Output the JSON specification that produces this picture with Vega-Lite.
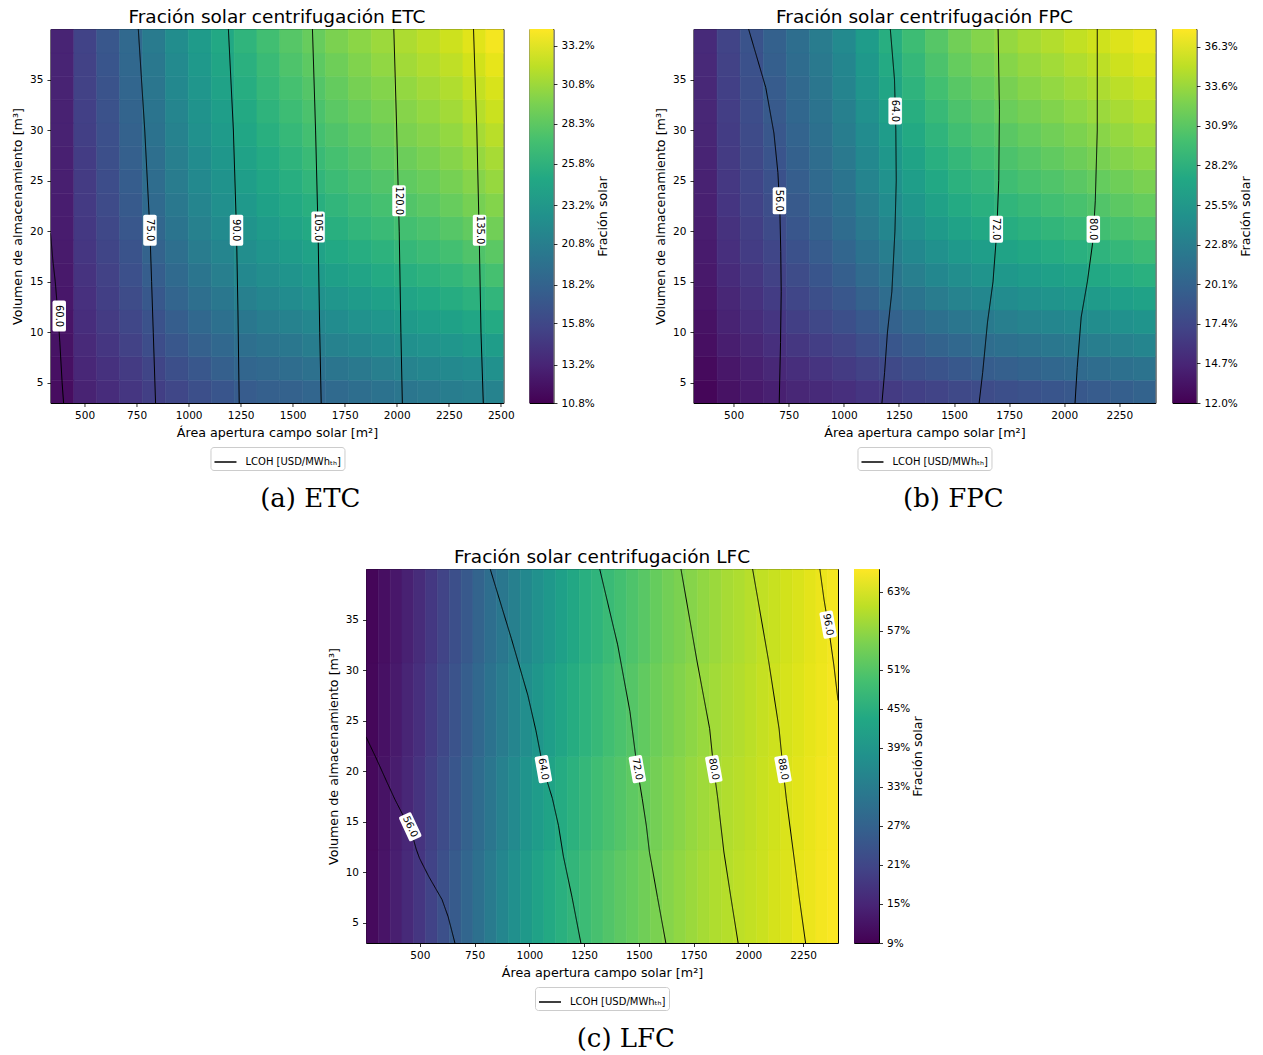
{
"$schema": "https://vega.github.io/schema/vega-lite/v6.json",
"background": "white",
"padding": {"left": 11, "top": 7, "right": 5, "bottom": 3},
"config": {
  "font": "DejaVu Sans",
  "view": {"stroke": "black", "strokeWidth": 1},
  "axis": {"grid": false, "domain": false, "tickColor": "black", "tickSize": 3.5, "tickWidth": 0.8, "labelFont": "DejaVu Sans", "labelFontSize": 10.5, "labelColor": "black", "labelPadding": 4, "labelFlush": false, "labelOverlap": false, "titleFont": "DejaVu Sans", "titleFontSize": 12.7, "titleFontWeight": "normal", "titleColor": "black", "titlePadding": 5},
  "title": {"font": "DejaVu Sans", "fontSize": 18.5, "fontWeight": "normal", "color": "black"},
  "legend": {"layout": {"bottom": {"anchor": "middle"}}}
},
"datasets": {
  "etc": [
{"x":391,"y":4.2,"f":11.5},{"x":391,"y":6.5,"f":11.7},{"x":391,"y":8.8,"f":11.9},{"x":391,"y":11.1,"f":12.0},{"x":391,"y":13.4,"f":12.2},{"x":391,"y":15.7,"f":12.3},{"x":391,"y":18.0,"f":12.4},{"x":391,"y":20.3,"f":12.5},{"x":391,"y":22.7,"f":12.6},{"x":391,"y":25.0,"f":12.7},{"x":391,"y":27.3,"f":12.8},{"x":391,"y":29.6,"f":12.9},{"x":391,"y":31.9,"f":12.9},{"x":391,"y":34.2,"f":13.0},{"x":391,"y":36.5,"f":13.1},{"x":391,"y":38.8,"f":13.1},
{"x":501,"y":4.2,"f":13.0},{"x":501,"y":6.5,"f":13.3},{"x":501,"y":8.8,"f":13.5},{"x":501,"y":11.1,"f":13.8},{"x":501,"y":13.4,"f":14.0},{"x":501,"y":15.7,"f":14.2},{"x":501,"y":18.0,"f":14.4},{"x":501,"y":20.3,"f":14.6},{"x":501,"y":22.7,"f":14.7},{"x":501,"y":25.0,"f":14.8},{"x":501,"y":27.3,"f":14.9},{"x":501,"y":29.6,"f":15.1},{"x":501,"y":31.9,"f":15.2},{"x":501,"y":34.2,"f":15.3},{"x":501,"y":36.5,"f":15.3},{"x":501,"y":38.8,"f":15.4},
{"x":611,"y":4.2,"f":13.7},{"x":611,"y":6.5,"f":14.1},{"x":611,"y":8.8,"f":14.4},{"x":611,"y":11.1,"f":14.8},{"x":611,"y":13.4,"f":15.1},{"x":611,"y":15.7,"f":15.3},{"x":611,"y":18.0,"f":15.6},{"x":611,"y":20.3,"f":15.8},{"x":611,"y":22.7,"f":16.0},{"x":611,"y":25.0,"f":16.2},{"x":611,"y":27.3,"f":16.4},{"x":611,"y":29.6,"f":16.5},{"x":611,"y":31.9,"f":16.7},{"x":611,"y":34.2,"f":16.8},{"x":611,"y":36.5,"f":17.0},{"x":611,"y":38.8,"f":17.1},
{"x":721,"y":4.2,"f":14.4},{"x":721,"y":6.5,"f":14.8},{"x":721,"y":8.8,"f":15.3},{"x":721,"y":11.1,"f":15.7},{"x":721,"y":13.4,"f":16.1},{"x":721,"y":15.7,"f":16.5},{"x":721,"y":18.0,"f":16.8},{"x":721,"y":20.3,"f":17.1},{"x":721,"y":22.7,"f":17.4},{"x":721,"y":25.0,"f":17.6},{"x":721,"y":27.3,"f":17.8},{"x":721,"y":29.6,"f":18.0},{"x":721,"y":31.9,"f":18.2},{"x":721,"y":34.2,"f":18.4},{"x":721,"y":36.5,"f":18.6},{"x":721,"y":38.8,"f":18.7},
{"x":831,"y":4.2,"f":15.1},{"x":831,"y":6.5,"f":15.6},{"x":831,"y":8.8,"f":16.2},{"x":831,"y":11.1,"f":16.7},{"x":831,"y":13.4,"f":17.2},{"x":831,"y":15.7,"f":17.7},{"x":831,"y":18.0,"f":18.1},{"x":831,"y":20.3,"f":18.5},{"x":831,"y":22.7,"f":18.8},{"x":831,"y":25.0,"f":19.1},{"x":831,"y":27.3,"f":19.3},{"x":831,"y":29.6,"f":19.6},{"x":831,"y":31.9,"f":19.8},{"x":831,"y":34.2,"f":20.0},{"x":831,"y":36.5,"f":20.2},{"x":831,"y":38.8,"f":20.4},
{"x":941,"y":4.2,"f":15.7},{"x":941,"y":6.5,"f":16.4},{"x":941,"y":8.8,"f":17.1},{"x":941,"y":11.1,"f":17.7},{"x":941,"y":13.4,"f":18.3},{"x":941,"y":15.7,"f":18.8},{"x":941,"y":18.0,"f":19.3},{"x":941,"y":20.3,"f":19.8},{"x":941,"y":22.7,"f":20.2},{"x":941,"y":25.0,"f":20.5},{"x":941,"y":27.3,"f":20.8},{"x":941,"y":29.6,"f":21.1},{"x":941,"y":31.9,"f":21.4},{"x":941,"y":34.2,"f":21.7},{"x":941,"y":36.5,"f":21.9},{"x":941,"y":38.8,"f":22.2},
{"x":1051,"y":4.2,"f":16.4},{"x":1051,"y":6.5,"f":17.1},{"x":1051,"y":8.8,"f":17.9},{"x":1051,"y":11.1,"f":18.6},{"x":1051,"y":13.4,"f":19.3},{"x":1051,"y":15.7,"f":19.9},{"x":1051,"y":18.0,"f":20.5},{"x":1051,"y":20.3,"f":21.0},{"x":1051,"y":22.7,"f":21.4},{"x":1051,"y":25.0,"f":21.8},{"x":1051,"y":27.3,"f":22.1},{"x":1051,"y":29.6,"f":22.5},{"x":1051,"y":31.9,"f":22.8},{"x":1051,"y":34.2,"f":23.1},{"x":1051,"y":36.5,"f":23.4},{"x":1051,"y":38.8,"f":23.6},
{"x":1161,"y":4.2,"f":17.0},{"x":1161,"y":6.5,"f":17.8},{"x":1161,"y":8.8,"f":18.6},{"x":1161,"y":11.1,"f":19.4},{"x":1161,"y":13.4,"f":20.1},{"x":1161,"y":15.7,"f":20.8},{"x":1161,"y":18.0,"f":21.4},{"x":1161,"y":20.3,"f":22.0},{"x":1161,"y":22.7,"f":22.4},{"x":1161,"y":25.0,"f":22.8},{"x":1161,"y":27.3,"f":23.2},{"x":1161,"y":29.6,"f":23.6},{"x":1161,"y":31.9,"f":23.9},{"x":1161,"y":34.2,"f":24.3},{"x":1161,"y":36.5,"f":24.6},{"x":1161,"y":38.8,"f":24.9},
{"x":1271,"y":4.2,"f":17.5},{"x":1271,"y":6.5,"f":18.4},{"x":1271,"y":8.8,"f":19.3},{"x":1271,"y":11.1,"f":20.1},{"x":1271,"y":13.4,"f":20.9},{"x":1271,"y":15.7,"f":21.7},{"x":1271,"y":18.0,"f":22.3},{"x":1271,"y":20.3,"f":22.9},{"x":1271,"y":22.7,"f":23.4},{"x":1271,"y":25.0,"f":23.9},{"x":1271,"y":27.3,"f":24.3},{"x":1271,"y":29.6,"f":24.7},{"x":1271,"y":31.9,"f":25.0},{"x":1271,"y":34.2,"f":25.4},{"x":1271,"y":36.5,"f":25.7},{"x":1271,"y":38.8,"f":26.1},
{"x":1381,"y":4.2,"f":17.8},{"x":1381,"y":6.5,"f":18.7},{"x":1381,"y":8.8,"f":19.7},{"x":1381,"y":11.1,"f":20.6},{"x":1381,"y":13.4,"f":21.5},{"x":1381,"y":15.7,"f":22.3},{"x":1381,"y":18.0,"f":23.0},{"x":1381,"y":20.3,"f":23.6},{"x":1381,"y":22.7,"f":24.2},{"x":1381,"y":25.0,"f":24.7},{"x":1381,"y":27.3,"f":25.1},{"x":1381,"y":29.6,"f":25.6},{"x":1381,"y":31.9,"f":26.0},{"x":1381,"y":34.2,"f":26.4},{"x":1381,"y":36.5,"f":26.7},{"x":1381,"y":38.8,"f":27.1},
{"x":1491,"y":4.2,"f":18.0},{"x":1491,"y":6.5,"f":19.1},{"x":1491,"y":8.8,"f":20.1},{"x":1491,"y":11.1,"f":21.1},{"x":1491,"y":13.4,"f":22.1},{"x":1491,"y":15.7,"f":22.9},{"x":1491,"y":18.0,"f":23.7},{"x":1491,"y":20.3,"f":24.4},{"x":1491,"y":22.7,"f":25.0},{"x":1491,"y":25.0,"f":25.5},{"x":1491,"y":27.3,"f":26.0},{"x":1491,"y":29.6,"f":26.5},{"x":1491,"y":31.9,"f":26.9},{"x":1491,"y":34.2,"f":27.3},{"x":1491,"y":36.5,"f":27.7},{"x":1491,"y":38.8,"f":28.1},
{"x":1601,"y":4.2,"f":18.4},{"x":1601,"y":6.5,"f":19.5},{"x":1601,"y":8.8,"f":20.6},{"x":1601,"y":11.1,"f":21.6},{"x":1601,"y":13.4,"f":22.6},{"x":1601,"y":15.7,"f":23.5},{"x":1601,"y":18.0,"f":24.3},{"x":1601,"y":20.3,"f":25.0},{"x":1601,"y":22.7,"f":25.6},{"x":1601,"y":25.0,"f":26.2},{"x":1601,"y":27.3,"f":26.7},{"x":1601,"y":29.6,"f":27.2},{"x":1601,"y":31.9,"f":27.6},{"x":1601,"y":34.2,"f":28.0},{"x":1601,"y":36.5,"f":28.4},{"x":1601,"y":38.8,"f":28.8},
{"x":1711,"y":4.2,"f":18.8},{"x":1711,"y":6.5,"f":19.9},{"x":1711,"y":8.8,"f":21.1},{"x":1711,"y":11.1,"f":22.1},{"x":1711,"y":13.4,"f":23.1},{"x":1711,"y":15.7,"f":24.0},{"x":1711,"y":18.0,"f":24.9},{"x":1711,"y":20.3,"f":25.6},{"x":1711,"y":22.7,"f":26.2},{"x":1711,"y":25.0,"f":26.8},{"x":1711,"y":27.3,"f":27.3},{"x":1711,"y":29.6,"f":27.8},{"x":1711,"y":31.9,"f":28.3},{"x":1711,"y":34.2,"f":28.7},{"x":1711,"y":36.5,"f":29.1},{"x":1711,"y":38.8,"f":29.6},
{"x":1821,"y":4.2,"f":19.2},{"x":1821,"y":6.5,"f":20.3},{"x":1821,"y":8.8,"f":21.5},{"x":1821,"y":11.1,"f":22.6},{"x":1821,"y":13.4,"f":23.6},{"x":1821,"y":15.7,"f":24.5},{"x":1821,"y":18.0,"f":25.4},{"x":1821,"y":20.3,"f":26.2},{"x":1821,"y":22.7,"f":26.8},{"x":1821,"y":25.0,"f":27.4},{"x":1821,"y":27.3,"f":27.9},{"x":1821,"y":29.6,"f":28.4},{"x":1821,"y":31.9,"f":28.9},{"x":1821,"y":34.2,"f":29.4},{"x":1821,"y":36.5,"f":29.8},{"x":1821,"y":38.8,"f":30.2},
{"x":1931,"y":4.2,"f":19.6},{"x":1931,"y":6.5,"f":20.8},{"x":1931,"y":8.8,"f":22.0},{"x":1931,"y":11.1,"f":23.1},{"x":1931,"y":13.4,"f":24.1},{"x":1931,"y":15.7,"f":25.1},{"x":1931,"y":18.0,"f":25.9},{"x":1931,"y":20.3,"f":26.7},{"x":1931,"y":22.7,"f":27.3},{"x":1931,"y":25.0,"f":27.9},{"x":1931,"y":27.3,"f":28.5},{"x":1931,"y":29.6,"f":29.0},{"x":1931,"y":31.9,"f":29.5},{"x":1931,"y":34.2,"f":29.9},{"x":1931,"y":36.5,"f":30.4},{"x":1931,"y":38.8,"f":30.8},
{"x":2041,"y":4.2,"f":20.0},{"x":2041,"y":6.5,"f":21.2},{"x":2041,"y":8.8,"f":22.4},{"x":2041,"y":11.1,"f":23.5},{"x":2041,"y":13.4,"f":24.5},{"x":2041,"y":15.7,"f":25.5},{"x":2041,"y":18.0,"f":26.4},{"x":2041,"y":20.3,"f":27.2},{"x":2041,"y":22.7,"f":27.9},{"x":2041,"y":25.0,"f":28.5},{"x":2041,"y":27.3,"f":29.0},{"x":2041,"y":29.6,"f":29.6},{"x":2041,"y":31.9,"f":30.0},{"x":2041,"y":34.2,"f":30.5},{"x":2041,"y":36.5,"f":31.0},{"x":2041,"y":38.8,"f":31.4},
{"x":2151,"y":4.2,"f":20.3},{"x":2151,"y":6.5,"f":21.5},{"x":2151,"y":8.8,"f":22.7},{"x":2151,"y":11.1,"f":23.9},{"x":2151,"y":13.4,"f":24.9},{"x":2151,"y":15.7,"f":25.9},{"x":2151,"y":18.0,"f":26.8},{"x":2151,"y":20.3,"f":27.6},{"x":2151,"y":22.7,"f":28.3},{"x":2151,"y":25.0,"f":28.9},{"x":2151,"y":27.3,"f":29.5},{"x":2151,"y":29.6,"f":30.0},{"x":2151,"y":31.9,"f":30.5},{"x":2151,"y":34.2,"f":31.0},{"x":2151,"y":36.5,"f":31.5},{"x":2151,"y":38.8,"f":31.9},
{"x":2261,"y":4.2,"f":20.6},{"x":2261,"y":6.5,"f":21.8},{"x":2261,"y":8.8,"f":23.1},{"x":2261,"y":11.1,"f":24.2},{"x":2261,"y":13.4,"f":25.3},{"x":2261,"y":15.7,"f":26.3},{"x":2261,"y":18.0,"f":27.2},{"x":2261,"y":20.3,"f":28.1},{"x":2261,"y":22.7,"f":28.8},{"x":2261,"y":25.0,"f":29.4},{"x":2261,"y":27.3,"f":30.0},{"x":2261,"y":29.6,"f":30.5},{"x":2261,"y":31.9,"f":31.0},{"x":2261,"y":34.2,"f":31.5},{"x":2261,"y":36.5,"f":32.0},{"x":2261,"y":38.8,"f":32.5},
{"x":2371,"y":4.2,"f":20.9},{"x":2371,"y":6.5,"f":22.1},{"x":2371,"y":8.8,"f":23.5},{"x":2371,"y":11.1,"f":24.7},{"x":2371,"y":13.4,"f":25.8},{"x":2371,"y":15.7,"f":26.8},{"x":2371,"y":18.0,"f":27.8},{"x":2371,"y":20.3,"f":28.6},{"x":2371,"y":22.7,"f":29.4},{"x":2371,"y":25.0,"f":30.0},{"x":2371,"y":27.3,"f":30.6},{"x":2371,"y":29.6,"f":31.2},{"x":2371,"y":31.9,"f":31.7},{"x":2371,"y":34.2,"f":32.2},{"x":2371,"y":36.5,"f":32.7},{"x":2371,"y":38.8,"f":33.2},
{"x":2481,"y":4.2,"f":21.2},{"x":2481,"y":6.5,"f":22.5},{"x":2481,"y":8.8,"f":23.8},{"x":2481,"y":11.1,"f":25.1},{"x":2481,"y":13.4,"f":26.2},{"x":2481,"y":15.7,"f":27.3},{"x":2481,"y":18.0,"f":28.3},{"x":2481,"y":20.3,"f":29.2},{"x":2481,"y":22.7,"f":29.9},{"x":2481,"y":25.0,"f":30.6},{"x":2481,"y":27.3,"f":31.2},{"x":2481,"y":29.6,"f":31.8},{"x":2481,"y":31.9,"f":32.4},{"x":2481,"y":34.2,"f":32.9},{"x":2481,"y":36.5,"f":33.4},{"x":2481,"y":38.8,"f":33.9}
  ],
  "etcL": [
{"c":"60","x":336,"y":19.8},{"c":"60","x":348,"y":17},{"c":"60","x":359,"y":15},{"c":"60","x":371,"y":12},{"c":"60","x":381,"y":9},{"c":"60","x":392,"y":5},{"c":"60","x":399,"y":3},
{"c":"75","x":758,"y":40},{"c":"75","x":789,"y":30},{"c":"75","x":814,"y":20},{"c":"75","x":822,"y":15},{"c":"75","x":830,"y":10},{"c":"75","x":841,"y":3},
{"c":"90","x":1191,"y":40},{"c":"90","x":1215,"y":30},{"c":"90","x":1230,"y":20},{"c":"90","x":1237,"y":12},{"c":"90","x":1243,"y":3},
{"c":"105","x":1595,"y":40},{"c":"105","x":1610,"y":30},{"c":"105","x":1622,"y":20},{"c":"105","x":1630,"y":10},{"c":"105","x":1637,"y":3},
{"c":"120","x":1986,"y":40},{"c":"120","x":2000,"y":30},{"c":"120","x":2012,"y":20},{"c":"120","x":2020,"y":10},{"c":"120","x":2027,"y":3},
{"c":"135","x":2369,"y":40},{"c":"135","x":2385,"y":30},{"c":"135","x":2396,"y":20},{"c":"135","x":2405,"y":10},{"c":"135","x":2416,"y":3}
  ],
  "etcT": [
{"x":378,"y":11.6,"t":"60.0"},{"x":814,"y":20.1,"t":"75.0"},{"x":1230,"y":20.1,"t":"90.0"},{"x":1622,"y":20.4,"t":"105.0"},{"x":2011,"y":23.0,"t":"120.0"},{"x":2398,"y":20.1,"t":"135.0"}
  ],
  "fpc": [
{"x":371,"y":4.2,"f":12.3},{"x":371,"y":6.5,"f":12.6},{"x":371,"y":8.8,"f":12.9},{"x":371,"y":11.1,"f":13.1},{"x":371,"y":13.4,"f":13.4},{"x":371,"y":15.7,"f":13.6},{"x":371,"y":18.0,"f":13.8},{"x":371,"y":20.3,"f":14.0},{"x":371,"y":22.7,"f":14.2},{"x":371,"y":25.0,"f":14.3},{"x":371,"y":27.3,"f":14.5},{"x":371,"y":29.6,"f":14.6},{"x":371,"y":31.9,"f":14.7},{"x":371,"y":34.2,"f":14.8},{"x":371,"y":36.5,"f":14.9},{"x":371,"y":38.8,"f":15.0},
{"x":476,"y":4.2,"f":13.1},{"x":476,"y":6.5,"f":13.5},{"x":476,"y":8.8,"f":14.0},{"x":476,"y":11.1,"f":14.4},{"x":476,"y":13.4,"f":14.7},{"x":476,"y":15.7,"f":15.1},{"x":476,"y":18.0,"f":15.4},{"x":476,"y":20.3,"f":15.6},{"x":476,"y":22.7,"f":15.9},{"x":476,"y":25.0,"f":16.1},{"x":476,"y":27.3,"f":16.3},{"x":476,"y":29.6,"f":16.4},{"x":476,"y":31.9,"f":16.6},{"x":476,"y":34.2,"f":16.8},{"x":476,"y":36.5,"f":16.9},{"x":476,"y":38.8,"f":17.1},
{"x":581,"y":4.2,"f":13.7},{"x":581,"y":6.5,"f":14.2},{"x":581,"y":8.8,"f":14.7},{"x":581,"y":11.1,"f":15.2},{"x":581,"y":13.4,"f":15.6},{"x":581,"y":15.7,"f":16.0},{"x":581,"y":18.0,"f":16.4},{"x":581,"y":20.3,"f":16.7},{"x":581,"y":22.7,"f":17.0},{"x":581,"y":25.0,"f":17.3},{"x":581,"y":27.3,"f":17.5},{"x":581,"y":29.6,"f":17.7},{"x":581,"y":31.9,"f":17.9},{"x":581,"y":34.2,"f":18.1},{"x":581,"y":36.5,"f":18.3},{"x":581,"y":38.8,"f":18.5},
{"x":686,"y":4.2,"f":14.2},{"x":686,"y":6.5,"f":14.8},{"x":686,"y":8.8,"f":15.4},{"x":686,"y":11.1,"f":15.9},{"x":686,"y":13.4,"f":16.4},{"x":686,"y":15.7,"f":16.9},{"x":686,"y":18.0,"f":17.3},{"x":686,"y":20.3,"f":17.7},{"x":686,"y":22.7,"f":18.0},{"x":686,"y":25.0,"f":18.3},{"x":686,"y":27.3,"f":18.6},{"x":686,"y":29.6,"f":18.9},{"x":686,"y":31.9,"f":19.1},{"x":686,"y":34.2,"f":19.3},{"x":686,"y":36.5,"f":19.6},{"x":686,"y":38.8,"f":19.8},
{"x":791,"y":4.2,"f":14.7},{"x":791,"y":6.5,"f":15.3},{"x":791,"y":8.8,"f":16.0},{"x":791,"y":11.1,"f":16.7},{"x":791,"y":13.4,"f":17.3},{"x":791,"y":15.7,"f":17.8},{"x":791,"y":18.0,"f":18.3},{"x":791,"y":20.3,"f":18.8},{"x":791,"y":22.7,"f":19.1},{"x":791,"y":25.0,"f":19.5},{"x":791,"y":27.3,"f":19.8},{"x":791,"y":29.6,"f":20.1},{"x":791,"y":31.9,"f":20.4},{"x":791,"y":34.2,"f":20.6},{"x":791,"y":36.5,"f":20.9},{"x":791,"y":38.8,"f":21.1},
{"x":896,"y":4.2,"f":15.0},{"x":896,"y":6.5,"f":15.8},{"x":896,"y":8.8,"f":16.6},{"x":896,"y":11.1,"f":17.4},{"x":896,"y":13.4,"f":18.1},{"x":896,"y":15.7,"f":18.7},{"x":896,"y":18.0,"f":19.3},{"x":896,"y":20.3,"f":19.8},{"x":896,"y":22.7,"f":20.3},{"x":896,"y":25.0,"f":20.7},{"x":896,"y":27.3,"f":21.0},{"x":896,"y":29.6,"f":21.4},{"x":896,"y":31.9,"f":21.7},{"x":896,"y":34.2,"f":22.0},{"x":896,"y":36.5,"f":22.3},{"x":896,"y":38.8,"f":22.6},
{"x":1001,"y":4.2,"f":15.4},{"x":1001,"y":6.5,"f":16.3},{"x":1001,"y":8.8,"f":17.2},{"x":1001,"y":11.1,"f":18.1},{"x":1001,"y":13.4,"f":18.9},{"x":1001,"y":15.7,"f":19.6},{"x":1001,"y":18.0,"f":20.3},{"x":1001,"y":20.3,"f":20.9},{"x":1001,"y":22.7,"f":21.4},{"x":1001,"y":25.0,"f":21.8},{"x":1001,"y":27.3,"f":22.3},{"x":1001,"y":29.6,"f":22.7},{"x":1001,"y":31.9,"f":23.0},{"x":1001,"y":34.2,"f":23.4},{"x":1001,"y":36.5,"f":23.7},{"x":1001,"y":38.8,"f":24.1},
{"x":1106,"y":4.2,"f":15.9},{"x":1106,"y":6.5,"f":16.9},{"x":1106,"y":8.8,"f":18.0},{"x":1106,"y":11.1,"f":19.0},{"x":1106,"y":13.4,"f":19.9},{"x":1106,"y":15.7,"f":20.8},{"x":1106,"y":18.0,"f":21.6},{"x":1106,"y":20.3,"f":22.3},{"x":1106,"y":22.7,"f":22.8},{"x":1106,"y":25.0,"f":23.4},{"x":1106,"y":27.3,"f":23.9},{"x":1106,"y":29.6,"f":24.3},{"x":1106,"y":31.9,"f":24.8},{"x":1106,"y":34.2,"f":25.2},{"x":1106,"y":36.5,"f":25.6},{"x":1106,"y":38.8,"f":26.0},
{"x":1211,"y":4.2,"f":16.3},{"x":1211,"y":6.5,"f":17.5},{"x":1211,"y":8.8,"f":18.8},{"x":1211,"y":11.1,"f":19.9},{"x":1211,"y":13.4,"f":21.0},{"x":1211,"y":15.7,"f":21.9},{"x":1211,"y":18.0,"f":22.8},{"x":1211,"y":20.3,"f":23.6},{"x":1211,"y":22.7,"f":24.3},{"x":1211,"y":25.0,"f":24.9},{"x":1211,"y":27.3,"f":25.5},{"x":1211,"y":29.6,"f":26.0},{"x":1211,"y":31.9,"f":26.5},{"x":1211,"y":34.2,"f":27.0},{"x":1211,"y":36.5,"f":27.5},{"x":1211,"y":38.8,"f":27.9},
{"x":1316,"y":4.2,"f":16.8},{"x":1316,"y":6.5,"f":18.1},{"x":1316,"y":8.8,"f":19.4},{"x":1316,"y":11.1,"f":20.7},{"x":1316,"y":13.4,"f":21.8},{"x":1316,"y":15.7,"f":22.9},{"x":1316,"y":18.0,"f":23.9},{"x":1316,"y":20.3,"f":24.8},{"x":1316,"y":22.7,"f":25.5},{"x":1316,"y":25.0,"f":26.2},{"x":1316,"y":27.3,"f":26.8},{"x":1316,"y":29.6,"f":27.4},{"x":1316,"y":31.9,"f":27.9},{"x":1316,"y":34.2,"f":28.5},{"x":1316,"y":36.5,"f":29.0},{"x":1316,"y":38.8,"f":29.5},
{"x":1421,"y":4.2,"f":17.1},{"x":1421,"y":6.5,"f":18.5},{"x":1421,"y":8.8,"f":20.0},{"x":1421,"y":11.1,"f":21.4},{"x":1421,"y":13.4,"f":22.6},{"x":1421,"y":15.7,"f":23.8},{"x":1421,"y":18.0,"f":24.8},{"x":1421,"y":20.3,"f":25.8},{"x":1421,"y":22.7,"f":26.6},{"x":1421,"y":25.0,"f":27.3},{"x":1421,"y":27.3,"f":28.0},{"x":1421,"y":29.6,"f":28.6},{"x":1421,"y":31.9,"f":29.2},{"x":1421,"y":34.2,"f":29.8},{"x":1421,"y":36.5,"f":30.3},{"x":1421,"y":38.8,"f":30.8},
{"x":1526,"y":4.2,"f":17.5},{"x":1526,"y":6.5,"f":19.0},{"x":1526,"y":8.8,"f":20.5},{"x":1526,"y":11.1,"f":22.0},{"x":1526,"y":13.4,"f":23.3},{"x":1526,"y":15.7,"f":24.5},{"x":1526,"y":18.0,"f":25.7},{"x":1526,"y":20.3,"f":26.7},{"x":1526,"y":22.7,"f":27.5},{"x":1526,"y":25.0,"f":28.3},{"x":1526,"y":27.3,"f":29.0},{"x":1526,"y":29.6,"f":29.7},{"x":1526,"y":31.9,"f":30.3},{"x":1526,"y":34.2,"f":30.9},{"x":1526,"y":36.5,"f":31.5},{"x":1526,"y":38.8,"f":32.0},
{"x":1631,"y":4.2,"f":17.8},{"x":1631,"y":6.5,"f":19.4},{"x":1631,"y":8.8,"f":21.0},{"x":1631,"y":11.1,"f":22.4},{"x":1631,"y":13.4,"f":23.8},{"x":1631,"y":15.7,"f":25.1},{"x":1631,"y":18.0,"f":26.2},{"x":1631,"y":20.3,"f":27.3},{"x":1631,"y":22.7,"f":28.1},{"x":1631,"y":25.0,"f":28.9},{"x":1631,"y":27.3,"f":29.7},{"x":1631,"y":29.6,"f":30.4},{"x":1631,"y":31.9,"f":31.0},{"x":1631,"y":34.2,"f":31.6},{"x":1631,"y":36.5,"f":32.2},{"x":1631,"y":38.8,"f":32.8},
{"x":1736,"y":4.2,"f":18.1},{"x":1736,"y":6.5,"f":19.7},{"x":1736,"y":8.8,"f":21.3},{"x":1736,"y":11.1,"f":22.9},{"x":1736,"y":13.4,"f":24.3},{"x":1736,"y":15.7,"f":25.6},{"x":1736,"y":18.0,"f":26.8},{"x":1736,"y":20.3,"f":27.8},{"x":1736,"y":22.7,"f":28.7},{"x":1736,"y":25.0,"f":29.6},{"x":1736,"y":27.3,"f":30.3},{"x":1736,"y":29.6,"f":31.0},{"x":1736,"y":31.9,"f":31.7},{"x":1736,"y":34.2,"f":32.3},{"x":1736,"y":36.5,"f":32.9},{"x":1736,"y":38.8,"f":33.5},
{"x":1841,"y":4.2,"f":18.4},{"x":1841,"y":6.5,"f":20.0},{"x":1841,"y":8.8,"f":21.7},{"x":1841,"y":11.1,"f":23.3},{"x":1841,"y":13.4,"f":24.7},{"x":1841,"y":15.7,"f":26.0},{"x":1841,"y":18.0,"f":27.2},{"x":1841,"y":20.3,"f":28.3},{"x":1841,"y":22.7,"f":29.2},{"x":1841,"y":25.0,"f":30.1},{"x":1841,"y":27.3,"f":30.8},{"x":1841,"y":29.6,"f":31.5},{"x":1841,"y":31.9,"f":32.2},{"x":1841,"y":34.2,"f":32.9},{"x":1841,"y":36.5,"f":33.5},{"x":1841,"y":38.8,"f":34.1},
{"x":1946,"y":4.2,"f":18.7},{"x":1946,"y":6.5,"f":20.4},{"x":1946,"y":8.8,"f":22.1},{"x":1946,"y":11.1,"f":23.6},{"x":1946,"y":13.4,"f":25.1},{"x":1946,"y":15.7,"f":26.4},{"x":1946,"y":18.0,"f":27.7},{"x":1946,"y":20.3,"f":28.8},{"x":1946,"y":22.7,"f":29.7},{"x":1946,"y":25.0,"f":30.5},{"x":1946,"y":27.3,"f":31.3},{"x":1946,"y":29.6,"f":32.0},{"x":1946,"y":31.9,"f":32.7},{"x":1946,"y":34.2,"f":33.4},{"x":1946,"y":36.5,"f":34.0},{"x":1946,"y":38.8,"f":34.6},
{"x":2051,"y":4.2,"f":19.0},{"x":2051,"y":6.5,"f":20.7},{"x":2051,"y":8.8,"f":22.4},{"x":2051,"y":11.1,"f":24.0},{"x":2051,"y":13.4,"f":25.5},{"x":2051,"y":15.7,"f":26.8},{"x":2051,"y":18.0,"f":28.1},{"x":2051,"y":20.3,"f":29.2},{"x":2051,"y":22.7,"f":30.1},{"x":2051,"y":25.0,"f":31.0},{"x":2051,"y":27.3,"f":31.8},{"x":2051,"y":29.6,"f":32.5},{"x":2051,"y":31.9,"f":33.2},{"x":2051,"y":34.2,"f":33.9},{"x":2051,"y":36.5,"f":34.5},{"x":2051,"y":38.8,"f":35.2},
{"x":2156,"y":4.2,"f":19.3},{"x":2156,"y":6.5,"f":21.0},{"x":2156,"y":8.8,"f":22.8},{"x":2156,"y":11.1,"f":24.4},{"x":2156,"y":13.4,"f":25.9},{"x":2156,"y":15.7,"f":27.3},{"x":2156,"y":18.0,"f":28.5},{"x":2156,"y":20.3,"f":29.7},{"x":2156,"y":22.7,"f":30.6},{"x":2156,"y":25.0,"f":31.5},{"x":2156,"y":27.3,"f":32.3},{"x":2156,"y":29.6,"f":33.0},{"x":2156,"y":31.9,"f":33.7},{"x":2156,"y":34.2,"f":34.4},{"x":2156,"y":36.5,"f":35.0},{"x":2156,"y":38.8,"f":35.7},
{"x":2261,"y":4.2,"f":19.6},{"x":2261,"y":6.5,"f":21.3},{"x":2261,"y":8.8,"f":23.1},{"x":2261,"y":11.1,"f":24.8},{"x":2261,"y":13.4,"f":26.3},{"x":2261,"y":15.7,"f":27.7},{"x":2261,"y":18.0,"f":29.0},{"x":2261,"y":20.3,"f":30.1},{"x":2261,"y":22.7,"f":31.1},{"x":2261,"y":25.0,"f":31.9},{"x":2261,"y":27.3,"f":32.8},{"x":2261,"y":29.6,"f":33.5},{"x":2261,"y":31.9,"f":34.2},{"x":2261,"y":34.2,"f":34.9},{"x":2261,"y":36.5,"f":35.6},{"x":2261,"y":38.8,"f":36.2},
{"x":2366,"y":4.2,"f":20.0},{"x":2366,"y":6.5,"f":21.7},{"x":2366,"y":8.8,"f":23.5},{"x":2366,"y":11.1,"f":25.1},{"x":2366,"y":13.4,"f":26.7},{"x":2366,"y":15.7,"f":28.1},{"x":2366,"y":18.0,"f":29.4},{"x":2366,"y":20.3,"f":30.5},{"x":2366,"y":22.7,"f":31.5},{"x":2366,"y":25.0,"f":32.4},{"x":2366,"y":27.3,"f":33.2},{"x":2366,"y":29.6,"f":34.0},{"x":2366,"y":31.9,"f":34.7},{"x":2366,"y":34.2,"f":35.4},{"x":2366,"y":36.5,"f":36.1},{"x":2366,"y":38.8,"f":36.7}
  ],
  "fpcL": [
{"c":"56","x":568,"y":40},{"c":"56","x":646,"y":34.2},{"c":"56","x":683,"y":29.7},{"c":"56","x":701,"y":25.8},{"c":"56","x":710,"y":22},{"c":"56","x":714,"y":18},{"c":"56","x":716,"y":14},{"c":"56","x":713,"y":9},{"c":"56","x":707,"y":3},
{"c":"64","x":1211,"y":40},{"c":"64","x":1230,"y":35},{"c":"64","x":1236,"y":30},{"c":"64","x":1238,"y":25},{"c":"64","x":1232,"y":20},{"c":"64","x":1218,"y":14},{"c":"64","x":1198,"y":10},{"c":"64","x":1185,"y":6},{"c":"64","x":1173,"y":3},
{"c":"72","x":1700,"y":40},{"c":"72","x":1706,"y":32},{"c":"72","x":1703,"y":25},{"c":"72","x":1694,"y":20},{"c":"72","x":1677,"y":15},{"c":"72","x":1652,"y":11},{"c":"72","x":1630,"y":6},{"c":"72","x":1614,"y":3},
{"c":"80","x":2150,"y":40},{"c":"80","x":2150,"y":30},{"c":"80","x":2141,"y":23},{"c":"80","x":2130,"y":19},{"c":"80","x":2105,"y":15},{"c":"80","x":2077,"y":11.5},{"c":"80","x":2059,"y":6.5},{"c":"80","x":2049,"y":3}
  ],
  "fpcT": [
{"x":708,"y":23.0,"t":"56.0"},{"x":1233,"y":31.9,"t":"64.0"},{"x":1692,"y":20.2,"t":"72.0"},{"x":2132,"y":20.2,"t":"80.0"}
  ],
  "lfc": [
{"x":281,"y":7.6,"f":10.4},{"x":281,"y":16.9,"f":10.2},{"x":281,"y":26.1,"f":9.9},{"x":281,"y":35.4,"f":9.7},
{"x":335,"y":7.6,"f":11.9},{"x":335,"y":16.9,"f":11.7},{"x":335,"y":26.1,"f":11.4},{"x":335,"y":35.4,"f":11.1},
{"x":389,"y":7.6,"f":13.7},{"x":389,"y":16.9,"f":13.3},{"x":389,"y":26.1,"f":12.8},{"x":389,"y":35.4,"f":12.4},
{"x":443,"y":7.6,"f":15.8},{"x":443,"y":16.9,"f":15.2},{"x":443,"y":26.1,"f":14.7},{"x":443,"y":35.4,"f":14.1},
{"x":497,"y":7.6,"f":17.9},{"x":497,"y":16.9,"f":17.3},{"x":497,"y":26.1,"f":16.6},{"x":497,"y":35.4,"f":16.0},
{"x":551,"y":7.6,"f":20.3},{"x":551,"y":16.9,"f":19.7},{"x":551,"y":26.1,"f":19.0},{"x":551,"y":35.4,"f":18.3},
{"x":605,"y":7.6,"f":22.8},{"x":605,"y":16.9,"f":22.0},{"x":605,"y":26.1,"f":21.3},{"x":605,"y":35.4,"f":20.5},
{"x":659,"y":7.6,"f":25.2},{"x":659,"y":16.9,"f":24.4},{"x":659,"y":26.1,"f":23.5},{"x":659,"y":35.4,"f":22.7},
{"x":713,"y":7.6,"f":27.8},{"x":713,"y":16.9,"f":26.8},{"x":713,"y":26.1,"f":25.9},{"x":713,"y":35.4,"f":24.9},
{"x":767,"y":7.6,"f":30.2},{"x":767,"y":16.9,"f":29.2},{"x":767,"y":26.1,"f":28.2},{"x":767,"y":35.4,"f":27.2},
{"x":821,"y":7.6,"f":32.6},{"x":821,"y":16.9,"f":31.6},{"x":821,"y":26.1,"f":30.5},{"x":821,"y":35.4,"f":29.5},
{"x":875,"y":7.6,"f":35.2},{"x":875,"y":16.9,"f":34.0},{"x":875,"y":26.1,"f":32.9},{"x":875,"y":35.4,"f":31.7},
{"x":929,"y":7.6,"f":37.5},{"x":929,"y":16.9,"f":36.3},{"x":929,"y":26.1,"f":35.0},{"x":929,"y":35.4,"f":33.8},
{"x":983,"y":7.6,"f":40.0},{"x":983,"y":16.9,"f":38.6},{"x":983,"y":26.1,"f":37.2},{"x":983,"y":35.4,"f":35.8},
{"x":1037,"y":7.6,"f":42.0},{"x":1037,"y":16.9,"f":40.6},{"x":1037,"y":26.1,"f":39.2},{"x":1037,"y":35.4,"f":37.8},
{"x":1091,"y":7.6,"f":43.8},{"x":1091,"y":16.9,"f":42.4},{"x":1091,"y":26.1,"f":41.1},{"x":1091,"y":35.4,"f":39.7},
{"x":1145,"y":7.6,"f":45.4},{"x":1145,"y":16.9,"f":44.2},{"x":1145,"y":26.1,"f":42.9},{"x":1145,"y":35.4,"f":41.7},
{"x":1199,"y":7.6,"f":46.9},{"x":1199,"y":16.9,"f":45.7},{"x":1199,"y":26.1,"f":44.5},{"x":1199,"y":35.4,"f":43.3},
{"x":1253,"y":7.6,"f":48.3},{"x":1253,"y":16.9,"f":47.3},{"x":1253,"y":26.1,"f":46.2},{"x":1253,"y":35.4,"f":45.1},
{"x":1307,"y":7.6,"f":49.7},{"x":1307,"y":16.9,"f":48.7},{"x":1307,"y":26.1,"f":47.6},{"x":1307,"y":35.4,"f":46.5},
{"x":1361,"y":7.6,"f":50.9},{"x":1361,"y":16.9,"f":49.9},{"x":1361,"y":26.1,"f":49.0},{"x":1361,"y":35.4,"f":48.0},
{"x":1415,"y":7.6,"f":52.1},{"x":1415,"y":16.9,"f":51.1},{"x":1415,"y":26.1,"f":50.2},{"x":1415,"y":35.4,"f":49.2},
{"x":1469,"y":7.6,"f":53.0},{"x":1469,"y":16.9,"f":52.2},{"x":1469,"y":26.1,"f":51.3},{"x":1469,"y":35.4,"f":50.5},
{"x":1523,"y":7.6,"f":54.0},{"x":1523,"y":16.9,"f":53.2},{"x":1523,"y":26.1,"f":52.5},{"x":1523,"y":35.4,"f":51.7},
{"x":1577,"y":7.6,"f":55.0},{"x":1577,"y":16.9,"f":54.4},{"x":1577,"y":26.1,"f":53.7},{"x":1577,"y":35.4,"f":53.0},
{"x":1631,"y":7.6,"f":56.1},{"x":1631,"y":16.9,"f":55.5},{"x":1631,"y":26.1,"f":54.8},{"x":1631,"y":35.4,"f":54.2},
{"x":1685,"y":7.6,"f":57.0},{"x":1685,"y":16.9,"f":56.4},{"x":1685,"y":26.1,"f":55.7},{"x":1685,"y":35.4,"f":55.1},
{"x":1739,"y":7.6,"f":58.0},{"x":1739,"y":16.9,"f":57.4},{"x":1739,"y":26.1,"f":56.7},{"x":1739,"y":35.4,"f":56.1},
{"x":1793,"y":7.6,"f":58.9},{"x":1793,"y":16.9,"f":58.3},{"x":1793,"y":26.1,"f":57.7},{"x":1793,"y":35.4,"f":57.1},
{"x":1847,"y":7.6,"f":59.7},{"x":1847,"y":16.9,"f":59.1},{"x":1847,"y":26.1,"f":58.6},{"x":1847,"y":35.4,"f":58.0},
{"x":1901,"y":7.6,"f":60.2},{"x":1901,"y":16.9,"f":59.8},{"x":1901,"y":26.1,"f":59.4},{"x":1901,"y":35.4,"f":59.0},
{"x":1955,"y":7.6,"f":60.8},{"x":1955,"y":16.9,"f":60.4},{"x":1955,"y":26.1,"f":60.0},{"x":1955,"y":35.4,"f":59.6},
{"x":2009,"y":7.6,"f":61.4},{"x":2009,"y":16.9,"f":61.0},{"x":2009,"y":26.1,"f":60.7},{"x":2009,"y":35.4,"f":60.3},
{"x":2063,"y":7.6,"f":62.0},{"x":2063,"y":16.9,"f":61.8},{"x":2063,"y":26.1,"f":61.5},{"x":2063,"y":35.4,"f":61.2},
{"x":2117,"y":7.6,"f":62.9},{"x":2117,"y":16.9,"f":62.5},{"x":2117,"y":26.1,"f":62.2},{"x":2117,"y":35.4,"f":61.8},
{"x":2171,"y":7.6,"f":63.5},{"x":2171,"y":16.9,"f":63.3},{"x":2171,"y":26.1,"f":63.0},{"x":2171,"y":35.4,"f":62.7},
{"x":2225,"y":7.6,"f":64.4},{"x":2225,"y":16.9,"f":64.0},{"x":2225,"y":26.1,"f":63.7},{"x":2225,"y":35.4,"f":63.3},
{"x":2279,"y":7.6,"f":64.9},{"x":2279,"y":16.9,"f":64.7},{"x":2279,"y":26.1,"f":64.4},{"x":2279,"y":35.4,"f":64.2},
{"x":2333,"y":7.6,"f":65.6},{"x":2333,"y":16.9,"f":65.4},{"x":2333,"y":26.1,"f":65.1},{"x":2333,"y":35.4,"f":64.9},
{"x":2387,"y":7.6,"f":66.2},{"x":2387,"y":16.9,"f":66.0},{"x":2387,"y":26.1,"f":65.8},{"x":2387,"y":35.4,"f":65.6}
  ],
  "lfcL": [
{"c":"56","x":254,"y":23.4},{"c":"56","x":300,"y":21.3},{"c":"56","x":350,"y":18.9},{"c":"56","x":386,"y":17.2},{"c":"56","x":424,"y":15.6},{"c":"56","x":456,"y":14.4},{"c":"56","x":483,"y":12.3},{"c":"56","x":498,"y":11.4},{"c":"56","x":540,"y":9.6},{"c":"56","x":601,"y":7.3},{"c":"56","x":629,"y":5.6},{"c":"56","x":660,"y":3},
{"c":"64","x":821,"y":40},{"c":"64","x":918,"y":33.1},{"c":"64","x":993,"y":27.5},{"c":"64","x":1030,"y":24},{"c":"64","x":1064,"y":20.2},{"c":"64","x":1105,"y":17.3},{"c":"64","x":1133,"y":14.6},{"c":"64","x":1155,"y":11.6},{"c":"64","x":1195,"y":7.5},{"c":"64","x":1235,"y":3},
{"c":"72","x":1321,"y":40},{"c":"72","x":1403,"y":32.5},{"c":"72","x":1459,"y":25.9},{"c":"72","x":1493,"y":20.2},{"c":"72","x":1515,"y":17.3},{"c":"72","x":1534,"y":14.6},{"c":"72","x":1548,"y":12},{"c":"72","x":1585,"y":7.5},{"c":"72","x":1623,"y":3},
{"c":"80","x":1692,"y":40},{"c":"80","x":1766,"y":30.8},{"c":"80","x":1823,"y":24.2},{"c":"80","x":1842,"y":20.2},{"c":"80","x":1860,"y":17.3},{"c":"80","x":1888,"y":12},{"c":"80","x":1920,"y":7.5},{"c":"80","x":1953,"y":3},
{"c":"88","x":2019,"y":40},{"c":"88","x":2093,"y":30.8},{"c":"88","x":2140,"y":24.2},{"c":"88","x":2158,"y":20.2},{"c":"88","x":2173,"y":17.3},{"c":"88","x":2205,"y":12},{"c":"88","x":2232,"y":7.5},{"c":"88","x":2261,"y":3},
{"c":"96","x":2326,"y":40},{"c":"96","x":2345,"y":37},{"c":"96","x":2364,"y":34.5},{"c":"96","x":2390,"y":30.5},{"c":"96","x":2409,"y":27}
  ],
  "lfcT": [
{"x":456,"y":14.5,"t":"56.0"},{"x":1064,"y":20.2,"t":"64.0"},{"x":1493,"y":20.2,"t":"72.0"},{"x":1842,"y":20.2,"t":"80.0"},{"x":2158,"y":20.2,"t":"88.0"},{"x":2364,"y":34.5,"t":"96.0"}
  ]
},
"vconcat": [
 {
  "hconcat": [
   {
    "hconcat": [
     {
      "width": 453, "height": 374,
      "title": {"text": "Fración solar centrifugación ETC", "frame": "group", "offset": 3},
      "encoding": {
        "x": {"field": "x", "type": "quantitative", "scale": {"domain": [336, 2513], "nice": false, "zero": false}, "axis": {"values": [500,750,1000,1250,1500,1750,2000,2250,2500], "format": "d"}, "title": "Área apertura campo solar [m²]"},
        "y": {"field": "y", "type": "quantitative", "scale": {"domain": [3, 40], "nice": false, "zero": false}, "axis": {"values": [5,10,15,20,25,30,35], "format": "d"}, "title": "Volumen de almacenamiento [m³]"}
      },
      "layer": [
        {"data": {"name": "etc"}, "mark": {"type": "rect", "clip": true, "strokeWidth": 0.6},
         "encoding": {
           "x": {"field": "x", "type": "quantitative", "bin": {"step": 110, "extent": [336, 2536], "nice": false}, "scale": {"domain": [336, 2513], "nice": false, "zero": false}, "axis": {"values": [500,750,1000,1250,1500,1750,2000,2250,2500], "format": "d"}, "title": "Área apertura campo solar [m²]"},
           "y": {"field": "y", "type": "quantitative", "bin": {"step": 2.3125, "extent": [3, 40], "nice": false}, "scale": {"domain": [3, 40], "nice": false, "zero": false}, "axis": {"values": [5,10,15,20,25,30,35], "format": "d"}, "title": "Volumen de almacenamiento [m³]"},
           "color": {"field": "f", "type": "quantitative", "scale": {"scheme": "viridis", "domain": [10.8, 34.25]}, "legend": null},
           "stroke": {"field": "f", "type": "quantitative", "scale": {"scheme": "viridis", "domain": [10.8, 34.25]}, "legend": null}
         }},
        {"data": {"name": "etcL"}, "mark": {"type": "line", "color": "black", "strokeWidth": 1, "clip": true},
         "encoding": {
           "detail": {"field": "c", "type": "nominal"},
           "order": {"field": "y", "type": "quantitative"},
           "strokeDash": {"datum": "LCOH [USD/MWhₜₕ]", "type": "nominal", "scale": {"range": [[1, 0]]},
             "legend": {"orient": "bottom", "title": null, "symbolType": "stroke", "symbolStrokeColor": "black", "symbolStrokeWidth": 1.5, "symbolSize": 484, "labelFont": "DejaVu Sans", "labelFontSize": 10, "labelColor": "black", "labelOffset": 8, "strokeColor": "#cccccc", "fillColor": "white", "cornerRadius": 3, "padding": 3, "offset": 8}}
         }},
        {"data": {"name": "etcT"}, "mark": {"type": "point", "shape": "M-0.88,-0.435H0.88Q1,-0.435 1,-0.315V0.315Q1,0.435 0.88,0.435H-0.88Q-1,0.435 -1,0.315V-0.315Q-1,-0.435 -0.88,-0.435Z", "size": 961, "angle": 90, "filled": true, "color": "white", "opacity": 1, "strokeWidth": 0}},
        {"data": {"name": "etcT"}, "mark": {"type": "text", "angle": 90, "fontSize": 10, "color": "black", "align": "center", "baseline": "middle"},
         "encoding": {"text": {"field": "t", "type": "nominal"}}}
      ]
     },
     {
      "width": 24, "height": 374,
      "data": {"values": [{"lo": 10.8, "hi": 34.25}]},
      "mark": {"type": "rect", "color": {"gradient": "linear", "x1": 0, "y1": 1, "x2": 0, "y2": 0, "stops": [{"offset":0,"color":"#440154"},{"offset":0.1,"color":"#482475"},{"offset":0.2,"color":"#414487"},{"offset":0.3,"color":"#355f8d"},{"offset":0.4,"color":"#2a788e"},{"offset":0.5,"color":"#21918c"},{"offset":0.6,"color":"#22a884"},{"offset":0.7,"color":"#44bf70"},{"offset":0.8,"color":"#7ad151"},{"offset":0.9,"color":"#bddf26"},{"offset":1,"color":"#fde725"}]}},
      "encoding": {
        "x": {"datum": 0, "type": "quantitative", "scale": {"domain": [0, 1], "nice": false, "zero": false}, "axis": null},
        "x2": {"datum": 1},
        "y": {"field": "lo", "type": "quantitative", "scale": {"domain": [10.8, 34.25], "nice": false, "zero": false}, "axis": {"orient": "right", "values": [10.8,13.2,15.8,18.2,20.8,23.2,25.8,28.3,30.8,33.2], "labelExpr": "format(datum.value, '.1f') + '%'", "title": "Fración solar", "titleAngle": 270, "titleBaseline": "top", "titlePadding": 2}},
        "y2": {"field": "hi"}
      }
     }
    ],
    "spacing": 26, "bounds": "flush",
    "title": {"text": "(a) ETC", "orient": "bottom", "anchor": "middle", "font": "DejaVu Serif", "fontSize": 26, "fontWeight": "normal", "offset": 15},
    "resolve": {"scale": {"x": "independent", "y": "independent", "color": "independent", "stroke": "independent", "strokeDash": "independent"}, "axis": {"x": "independent", "y": "independent"}, "legend": {"strokeDash": "independent", "color": "independent", "stroke": "independent"}}
   },
   {
    "hconcat": [
     {
      "width": 462, "height": 374,
      "title": {"text": "Fración solar centrifugación FPC", "frame": "group", "offset": 3},
      "encoding": {
        "x": {"field": "x", "type": "quantitative", "scale": {"domain": [318, 2414], "nice": false, "zero": false}, "axis": {"values": [500,750,1000,1250,1500,1750,2000,2250], "format": "d"}, "title": "Área apertura campo solar [m²]"},
        "y": {"field": "y", "type": "quantitative", "scale": {"domain": [3, 40], "nice": false, "zero": false}, "axis": {"values": [5,10,15,20,25,30,35], "format": "d"}, "title": "Volumen de almacenamiento [m³]"}
      },
      "layer": [
        {"data": {"name": "fpc"}, "mark": {"type": "rect", "clip": true, "strokeWidth": 0.6},
         "encoding": {
           "x": {"field": "x", "type": "quantitative", "bin": {"step": 105, "extent": [318, 2418], "nice": false}, "scale": {"domain": [318, 2414], "nice": false, "zero": false}, "axis": {"values": [500,750,1000,1250,1500,1750,2000,2250], "format": "d"}, "title": "Área apertura campo solar [m²]"},
           "y": {"field": "y", "type": "quantitative", "bin": {"step": 2.3125, "extent": [3, 40], "nice": false}, "scale": {"domain": [3, 40], "nice": false, "zero": false}, "axis": {"values": [5,10,15,20,25,30,35], "format": "d"}, "title": "Volumen de almacenamiento [m³]"},
           "color": {"field": "f", "type": "quantitative", "scale": {"scheme": "viridis", "domain": [12.0, 37.5]}, "legend": null},
           "stroke": {"field": "f", "type": "quantitative", "scale": {"scheme": "viridis", "domain": [12.0, 37.5]}, "legend": null}
         }},
        {"data": {"name": "fpcL"}, "mark": {"type": "line", "color": "black", "strokeWidth": 1, "clip": true},
         "encoding": {
           "detail": {"field": "c", "type": "nominal"},
           "order": {"field": "y", "type": "quantitative"},
           "strokeDash": {"datum": "LCOH [USD/MWhₜₕ]", "type": "nominal", "scale": {"range": [[1, 0]]},
             "legend": {"orient": "bottom", "title": null, "symbolType": "stroke", "symbolStrokeColor": "black", "symbolStrokeWidth": 1.5, "symbolSize": 484, "labelFont": "DejaVu Sans", "labelFontSize": 10, "labelColor": "black", "labelOffset": 8, "strokeColor": "#cccccc", "fillColor": "white", "cornerRadius": 3, "padding": 3, "offset": 8}}
         }},
        {"data": {"name": "fpcT"}, "mark": {"type": "point", "shape": "M-0.86,-0.5H0.86Q1,-0.5 1,-0.36V0.36Q1,0.5 0.86,0.5H-0.86Q-1,0.5 -1,0.36V-0.36Q-1,-0.5 -0.86,-0.5Z", "size": 729, "angle": 90, "filled": true, "color": "white", "opacity": 1, "strokeWidth": 0}},
        {"data": {"name": "fpcT"}, "mark": {"type": "text", "angle": 90, "fontSize": 10, "color": "black", "align": "center", "baseline": "middle"},
         "encoding": {"text": {"field": "t", "type": "nominal"}}}
      ]
     },
     {
      "width": 24, "height": 374,
      "data": {"values": [{"lo": 12.0, "hi": 37.5}]},
      "mark": {"type": "rect", "color": {"gradient": "linear", "x1": 0, "y1": 1, "x2": 0, "y2": 0, "stops": [{"offset":0,"color":"#440154"},{"offset":0.1,"color":"#482475"},{"offset":0.2,"color":"#414487"},{"offset":0.3,"color":"#355f8d"},{"offset":0.4,"color":"#2a788e"},{"offset":0.5,"color":"#21918c"},{"offset":0.6,"color":"#22a884"},{"offset":0.7,"color":"#44bf70"},{"offset":0.8,"color":"#7ad151"},{"offset":0.9,"color":"#bddf26"},{"offset":1,"color":"#fde725"}]}},
      "encoding": {
        "x": {"datum": 0, "type": "quantitative", "scale": {"domain": [0, 1], "nice": false, "zero": false}, "axis": null},
        "x2": {"datum": 1},
        "y": {"field": "lo", "type": "quantitative", "scale": {"domain": [12.0, 37.5], "nice": false, "zero": false}, "axis": {"orient": "right", "values": [12.0,14.7,17.4,20.1,22.8,25.5,28.2,30.9,33.6,36.3], "labelExpr": "format(datum.value, '.1f') + '%'", "title": "Fración solar", "titleAngle": 270, "titleBaseline": "top", "titlePadding": 2}},
        "y2": {"field": "hi"}
      }
     }
    ],
    "spacing": 17, "bounds": "flush",
    "title": {"text": "(b) FPC", "orient": "bottom", "anchor": "middle", "font": "DejaVu Serif", "fontSize": 26, "fontWeight": "normal", "offset": 15},
    "resolve": {"scale": {"x": "independent", "y": "independent", "color": "independent", "stroke": "independent", "strokeDash": "independent"}, "axis": {"x": "independent", "y": "independent"}, "legend": {"strokeDash": "independent", "color": "independent", "stroke": "independent"}}
   }
  ],
  "spacing": 43,
  "resolve": {"scale": {"x": "independent", "y": "independent", "color": "independent", "stroke": "independent", "strokeDash": "independent"}, "axis": {"x": "independent", "y": "independent"}, "legend": {"strokeDash": "independent", "color": "independent", "stroke": "independent"}}
 },
 {
  "hconcat": [
   {
    "hconcat": [
     {
      "width": 472, "height": 374,
      "title": {"text": "Fración solar centrifugación LFC", "frame": "group", "offset": 3},
      "encoding": {
        "x": {"field": "x", "type": "quantitative", "scale": {"domain": [254, 2409], "nice": false, "zero": false}, "axis": {"values": [500,750,1000,1250,1500,1750,2000,2250], "format": "d"}, "title": "Área apertura campo solar [m²]"},
        "y": {"field": "y", "type": "quantitative", "scale": {"domain": [3, 40], "nice": false, "zero": false}, "axis": {"values": [5,10,15,20,25,30,35], "format": "d"}, "title": "Volumen de almacenamiento [m³]"}
      },
      "layer": [
        {"data": {"name": "lfc"}, "mark": {"type": "rect", "clip": true, "strokeWidth": 0.6},
         "encoding": {
           "x": {"field": "x", "type": "quantitative", "bin": {"step": 54, "extent": [254, 2414], "nice": false}, "scale": {"domain": [254, 2409], "nice": false, "zero": false}, "axis": {"values": [500,750,1000,1250,1500,1750,2000,2250], "format": "d"}, "title": "Área apertura campo solar [m²]"},
           "y": {"field": "y", "type": "quantitative", "bin": {"step": 9.25, "extent": [3, 40], "nice": false}, "scale": {"domain": [3, 40], "nice": false, "zero": false}, "axis": {"values": [5,10,15,20,25,30,35], "format": "d"}, "title": "Volumen de almacenamiento [m³]"},
           "color": {"field": "f", "type": "quantitative", "scale": {"scheme": "viridis", "domain": [9, 66.5]}, "legend": null},
           "stroke": {"field": "f", "type": "quantitative", "scale": {"scheme": "viridis", "domain": [9, 66.5]}, "legend": null}
         }},
        {"data": {"name": "lfcL"}, "mark": {"type": "line", "color": "black", "strokeWidth": 1, "clip": true},
         "encoding": {
           "detail": {"field": "c", "type": "nominal"},
           "order": {"field": "y", "type": "quantitative"},
           "strokeDash": {"datum": "LCOH [USD/MWhₜₕ]", "type": "nominal", "scale": {"range": [[1, 0]]},
             "legend": {"orient": "bottom", "title": null, "symbolType": "stroke", "symbolStrokeColor": "black", "symbolStrokeWidth": 1.5, "symbolSize": 484, "labelFont": "DejaVu Sans", "labelFontSize": 10, "labelColor": "black", "labelOffset": 8, "strokeColor": "#cccccc", "fillColor": "white", "cornerRadius": 3, "padding": 3, "offset": 8}}
         }},
        {"data": {"name": "lfcT"}, "transform": [{"filter": "datum.t == '56.0'"}], "mark": {"type": "point", "shape": "M-0.86,-0.5H0.86Q1,-0.5 1,-0.36V0.36Q1,0.5 0.86,0.5H-0.86Q-1,0.5 -1,0.36V-0.36Q-1,-0.5 -0.86,-0.5Z", "size": 729, "angle": 65, "filled": true, "color": "white", "opacity": 1, "strokeWidth": 0}},
        {"data": {"name": "lfcT"}, "transform": [{"filter": "datum.t != '56.0'"}], "mark": {"type": "point", "shape": "M-0.86,-0.5H0.86Q1,-0.5 1,-0.36V0.36Q1,0.5 0.86,0.5H-0.86Q-1,0.5 -1,0.36V-0.36Q-1,-0.5 -0.86,-0.5Z", "size": 729, "angle": 80, "filled": true, "color": "white", "opacity": 1, "strokeWidth": 0}},
        {"data": {"name": "lfcT"}, "transform": [{"filter": "datum.t == '56.0'"}], "mark": {"type": "text", "angle": 65, "fontSize": 10, "color": "black", "align": "center", "baseline": "middle"},
         "encoding": {"text": {"field": "t", "type": "nominal"}}},
        {"data": {"name": "lfcT"}, "transform": [{"filter": "datum.t != '56.0'"}], "mark": {"type": "text", "angle": 80, "fontSize": 10, "color": "black", "align": "center", "baseline": "middle"},
         "encoding": {"text": {"field": "t", "type": "nominal"}}}
      ]
     },
     {
      "width": 25, "height": 374,
      "data": {"values": [{"lo": 9, "hi": 66.5}]},
      "mark": {"type": "rect", "color": {"gradient": "linear", "x1": 0, "y1": 1, "x2": 0, "y2": 0, "stops": [{"offset":0,"color":"#440154"},{"offset":0.1,"color":"#482475"},{"offset":0.2,"color":"#414487"},{"offset":0.3,"color":"#355f8d"},{"offset":0.4,"color":"#2a788e"},{"offset":0.5,"color":"#21918c"},{"offset":0.6,"color":"#22a884"},{"offset":0.7,"color":"#44bf70"},{"offset":0.8,"color":"#7ad151"},{"offset":0.9,"color":"#bddf26"},{"offset":1,"color":"#fde725"}]}},
      "encoding": {
        "x": {"datum": 0, "type": "quantitative", "scale": {"domain": [0, 1], "nice": false, "zero": false}, "axis": null},
        "x2": {"datum": 1},
        "y": {"field": "lo", "type": "quantitative", "scale": {"domain": [9, 66.5], "nice": false, "zero": false}, "axis": {"orient": "right", "values": [9,15,21,27,33,39,45,51,57,63], "labelExpr": "format(datum.value, '.0f') + '%'", "title": "Fración solar", "titleAngle": 270, "titleBaseline": "top", "titlePadding": 2}},
        "y2": {"field": "hi"}
      }
     }
    ],
    "spacing": 16, "bounds": "flush",
    "title": {"text": "(c) LFC", "orient": "bottom", "anchor": "middle", "font": "DejaVu Serif", "fontSize": 26, "fontWeight": "normal", "offset": 15},
    "resolve": {"scale": {"x": "independent", "y": "independent", "color": "independent", "stroke": "independent", "strokeDash": "independent"}, "axis": {"x": "independent", "y": "independent"}, "legend": {"strokeDash": "independent", "color": "independent", "stroke": "independent"}}
   },
   {"width": 11, "height": 10, "data": {"values": []}, "mark": {"type": "point"}, "view": {"stroke": null}}
  ],
  "spacing": 0,
  "resolve": {"scale": {"x": "independent", "y": "independent", "color": "independent", "stroke": "independent", "strokeDash": "independent"}, "axis": {"x": "independent", "y": "independent"}, "legend": {"strokeDash": "independent", "color": "independent", "stroke": "independent"}}
 }
],
"center": true,
"spacing": 35,
"resolve": {"scale": {"x": "independent", "y": "independent", "color": "independent", "stroke": "independent", "strokeDash": "independent"}, "axis": {"x": "independent", "y": "independent"}, "legend": {"strokeDash": "independent", "color": "independent", "stroke": "independent"}}
}
